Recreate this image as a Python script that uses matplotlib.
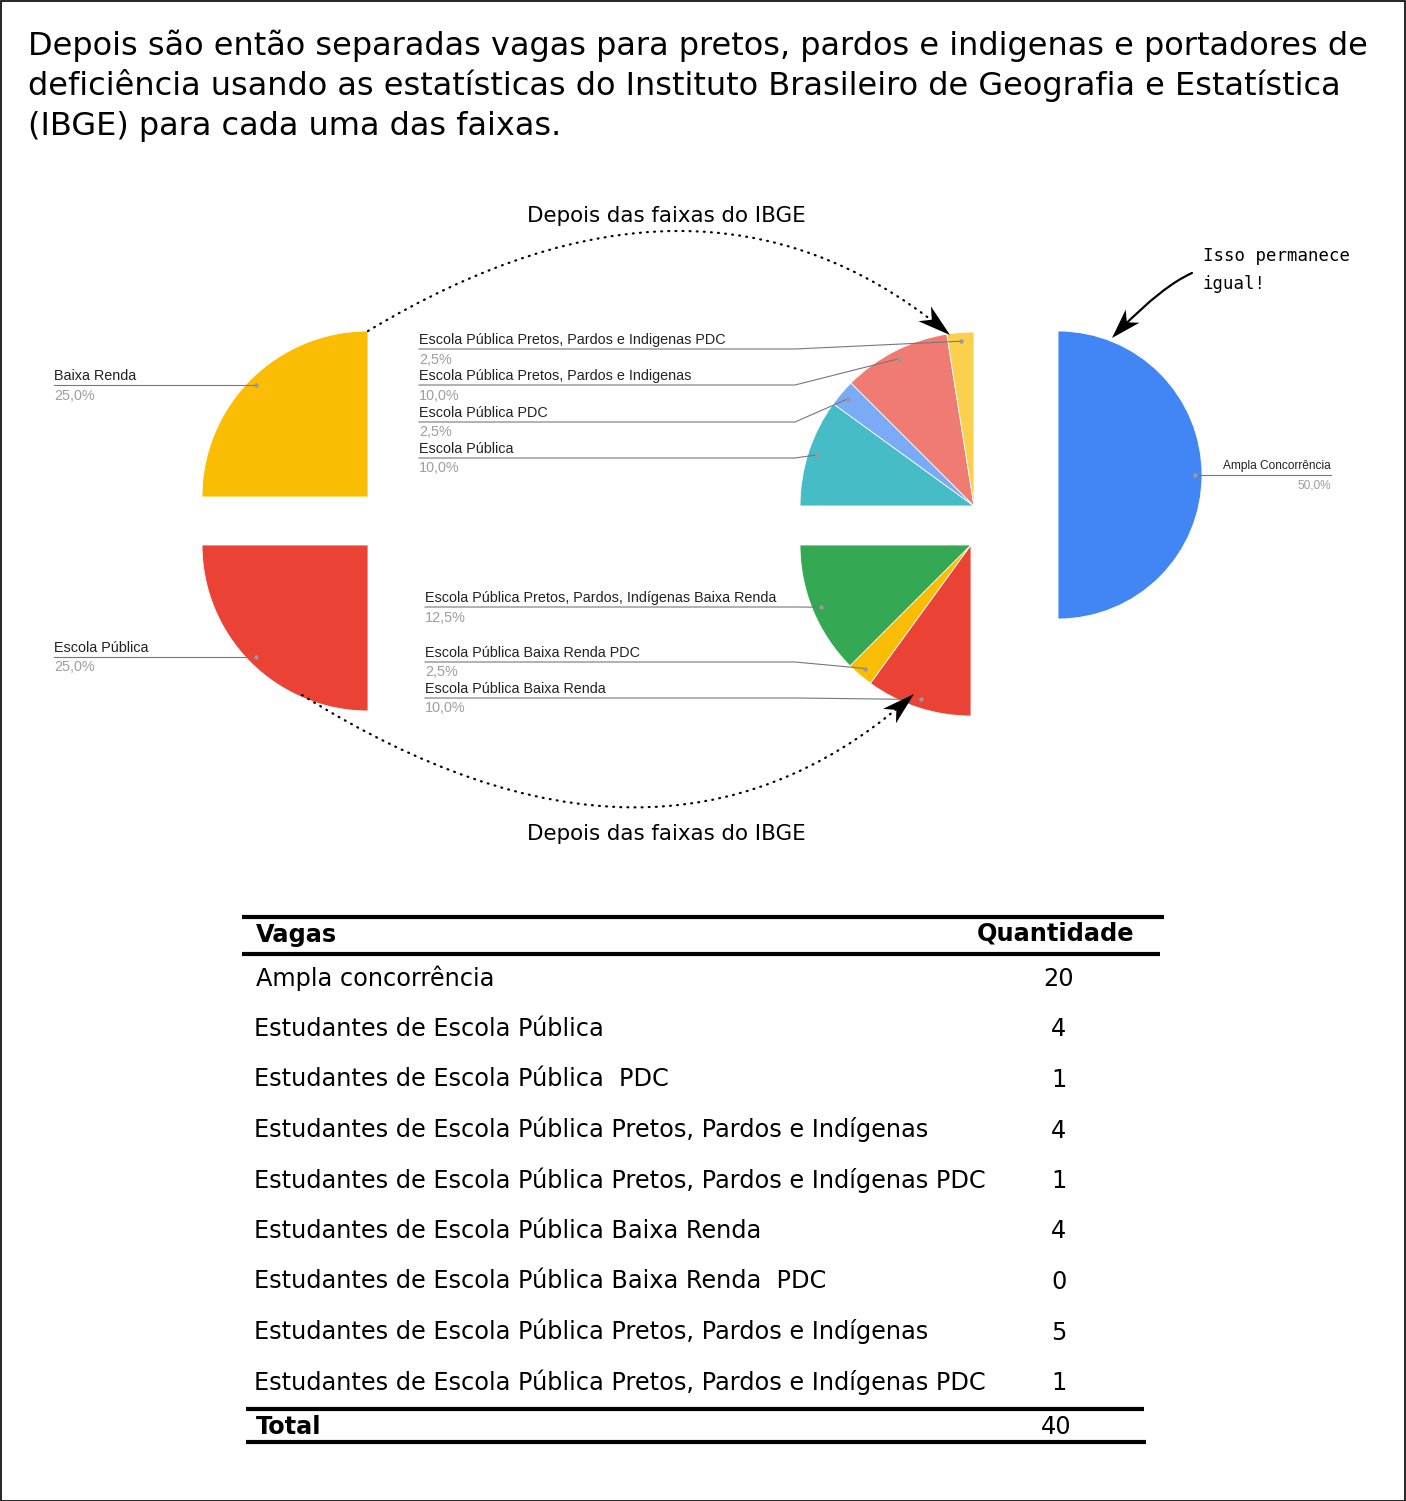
import numpy as np
import matplotlib
matplotlib.use('Agg')
import matplotlib.pyplot as plt
from matplotlib.patches import FancyArrowPatch, Rectangle, Polygon

W, H = 1406, 1501

titulo = ["Depois são então separadas vagas para pretos, pardos e indigenas e portadores de",
          "deficiência usando as estatísticas do Instituto Brasileiro de Geografia e Estatística",
          "(IBGE) para cada uma das faixas."]

# faixas iniciais (%)
faixa_cats = ['Baixa Renda', 'Escola Pública']
faixa_vals = [25.0, 25.0]
faixa_cores = ['#FBBC04', '#EA4335']
ampla_cat = 'Ampla Concorrência'
ampla_val = 50.0

# depois das faixas do IBGE (%)
ep_cats = ['Escola Pública', 'Escola Pública PDC',
           'Escola Pública Pretos, Pardos e Indigenas',
           'Escola Pública Pretos, Pardos e Indigenas PDC']
ep_vals = [10.0, 2.5, 10.0, 2.5]
ep_cores = ['#46BDC6', '#7BAAF7', '#F07B72', '#FCD04F']

br_cats = ['Escola Pública Pretos, Pardos, Indígenas Baixa Renda',
           'Escola Pública Baixa Renda PDC',
           'Escola Pública Baixa Renda']
br_vals = [12.5, 2.5, 10.0]
br_cores = ['#34A853', '#FBBC04', '#EA4335']

# tabela
vagas = ['Ampla concorrência',
         'Estudantes de Escola Pública',
         'Estudantes de Escola Pública  PDC',
         'Estudantes de Escola Pública Pretos, Pardos e Indígenas',
         'Estudantes de Escola Pública Pretos, Pardos e Indígenas PDC',
         'Estudantes de Escola Pública Baixa Renda',
         'Estudantes de Escola Pública Baixa Renda  PDC',
         'Estudantes de Escola Pública Pretos, Pardos e Indígenas',
         'Estudantes de Escola Pública Pretos, Pardos e Indígenas PDC']
quantidade = [20, 4, 1, 4, 1, 4, 0, 5, 1]
total = 40

LBL_FONT = 'Liberation Sans'
TAB_FS = 17.3


def Y(y):
    # pixel row (from top) -> data y
    return H - y


def pct(v):
    return f'{v:.1f}'.replace('.', ',') + '%'


fig = plt.figure(figsize=(W / 100, H / 100), dpi=100)
ax = fig.add_axes([0, 0, 1, 1])


def draw_pie(vals, colors, cx, cy, r, start, ccw):
    ax.pie([v / 100 for v in vals], colors=colors, radius=r, center=(cx, Y(cy)),
           startangle=start, counterclock=ccw, normalize=False, frame=True,
           wedgeprops=dict(edgecolor='white', linewidth=0.6))
    sign = 1 if ccw else -1
    a = start
    pts = []
    for v in vals:
        d = 360 * v / 100
        t = np.radians(a + sign * d / 2)
        pts.append((cx + 0.95 * r * np.cos(t), cy - 0.95 * r * np.sin(t)))
        a += sign * d
    return pts


def label(name, val, x0, ly, dot, xbreak=None, size=10.4, right=False):
    if right:
        xs, ys = [dot[0], x0], [dot[1], ly]
        ha = 'right'
    elif xbreak is None:
        xs, ys = [x0, dot[0]], [ly, dot[1]]
        ha = 'left'
    else:
        xs, ys = [x0, xbreak, dot[0]], [ly, ly, dot[1]]
        ha = 'left'
    ax.plot(xs, [Y(v) for v in ys], color='#777777', lw=0.8)
    ax.plot(dot[0], Y(dot[1]), 'o', ms=3.2, color='#999999', mec='none')
    ax.text(x0, Y(ly - 9), name, ha=ha, va='center', fontsize=size,
            color='#222222', family=LBL_FONT)
    ax.text(x0, Y(ly + 10.5), pct(val), ha=ha, va='center', fontsize=size,
            color='#9E9E9E', family=LBL_FONT)


def curved_arrow(p0, p1, angA, angB, dotted=False, L=33, w=9.7):
    # angA / angB: travel direction (deg, y up) at start / at the tip
    x0, y0 = p0[0], Y(p0[1])
    x1, y1 = p1[0], Y(p1[1])
    kw = dict(linestyle=(0, (0.4, 2.8)), capstyle='round', lw=1.6) if dotted else dict(lw=1.6)
    ax.add_patch(FancyArrowPatch((x0, y0), (x1, y1),
                                 connectionstyle=f'angle3,angleA={angA},angleB={angB}',
                                 arrowstyle='-', color='black', shrinkA=0, shrinkB=8,
                                 zorder=5, **kw))
    d = np.array([np.cos(np.radians(angB)), np.sin(np.radians(angB))])
    n = np.array([-d[1], d[0]])
    tip = np.array([x1, y1])
    back = tip - L * d
    ax.add_patch(Polygon([tip, back + w * n, tip - 0.72 * L * d, back - w * n],
                         closed=True, color='black', lw=0, zorder=6))


# faixas: Baixa Renda e Escola Pública
d1 = draw_pie([faixa_vals[0]], [faixa_cores[0]], 368, 497, 166, 90, True)
d2 = draw_pie([faixa_vals[1]], [faixa_cores[1]], 368, 545, 166, 180, True)
label(faixa_cats[0], faixa_vals[0], 54, d1[0][1], d1[0])
label(faixa_cats[1], faixa_vals[1], 54, d2[0][1], d2[0])

# depois das faixas
d3 = draw_pie(ep_vals, ep_cores, 974, 506, 174, 180, False)
for cat, v, ly, dot in zip(ep_cats, ep_vals, [458, 422, 385, 349], d3):
    label(cat, v, 419, ly, dot, xbreak=795)

d4 = draw_pie(br_vals, br_cores, 971, 545, 171, 180, True)
for cat, v, ly, dot in zip(br_cats, br_vals, [607, 662, 698], d4):
    label(cat, v, 425, ly, dot, xbreak=795)

# ampla concorrência
d5 = draw_pie([ampla_val], ['#4285F4'], 1058, 475, 144, -90, True)
label(ampla_cat, ampla_val, 1331, d5[0][1], d5[0], size=8.6, right=True)

# setas pontilhadas
curved_arrow((368, 331), (950, 335), 31, -40, dotted=True)
curved_arrow((302, 695), (914, 694), -32, 42, dotted=True)
ax.text(666, Y(216), 'Depois das faixas do IBGE', ha='center', va='center', fontsize=15.4)
ax.text(666, Y(834), 'Depois das faixas do IBGE', ha='center', va='center', fontsize=15.4)

# nota
ax.text(1203, Y(256), 'Isso permanece', ha='left', va='center', fontsize=12.5, family='DejaVu Sans Mono')
ax.text(1203, Y(284), 'igual!', ha='left', va='center', fontsize=12.5, family='DejaVu Sans Mono')
curved_arrow((1192, 273), (1112, 338), 204, 226.6, L=30, w=9.5)

# título
for i, linha in enumerate(titulo):
    ax.text(28, Y(55 + 40 * i), linha, ha='left', va='baseline', fontsize=23.05)

# tabela
def hline(x0, x1, y):
    ax.plot([x0, x1], [Y(y), Y(y)], color='black', lw=3, solid_capstyle='butt')

hline(242, 1164, 917)
hline(242, 1160, 954)
ax.text(256, Y(935), 'Vagas', ha='left', va='center', fontsize=TAB_FS, fontweight='bold')
ax.text(1055, Y(933), 'Quantidade', ha='center', va='center', fontsize=TAB_FS, fontweight='bold')
for i, (nome, q) in enumerate(zip(vagas, quantidade)):
    yy = 978 + 50.5 * i
    ax.text(256 if i == 0 else 254, Y(yy), nome, ha='left', va='center', fontsize=TAB_FS)
    ax.text(1059, Y(yy + 1), str(q), ha='center', va='center', fontsize=TAB_FS)
hline(246, 1144, 1409)
ax.text(256, Y(1427), 'Total', ha='left', va='center', fontsize=TAB_FS, fontweight='bold')
ax.text(1056, Y(1427), str(total), ha='center', va='center', fontsize=TAB_FS)
hline(246, 1146, 1442)

ax.add_patch(Rectangle((0.5, 0.5), W - 1.5, H - 1.5, fill=False, ec='black', lw=1.2, clip_on=False))

ax.set_xlim(0, W)
ax.set_ylim(0, H)
ax.set_aspect('auto')
ax.axis('off')

fig.savefig('out.png', dpi=100, facecolor='white')
